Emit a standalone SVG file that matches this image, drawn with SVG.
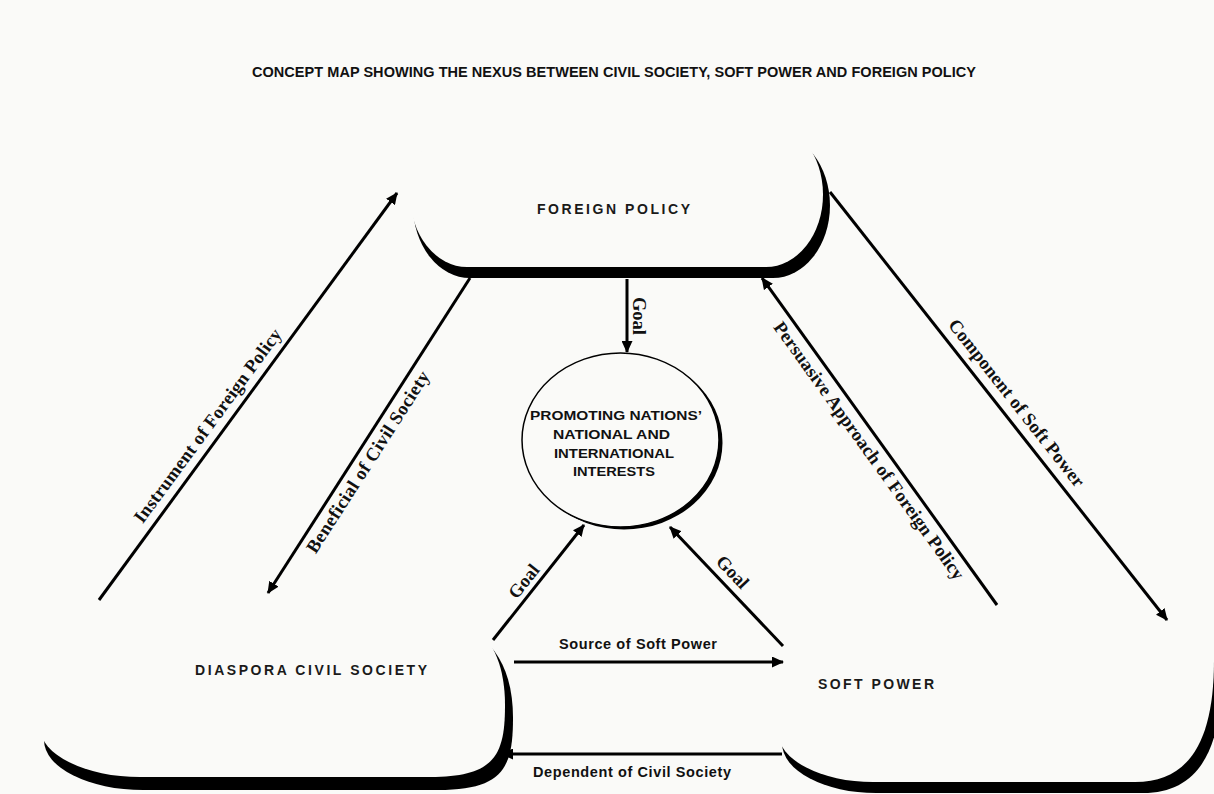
<svg xmlns="http://www.w3.org/2000/svg" width="1214" height="794" viewBox="0 0 1214 794">
<defs>
<style>
.bg{fill:#fafaf8}
.shape{fill:#fafaf8}
.shadow{fill:#000}
.title{font-family:"Liberation Sans",Arial,sans-serif;font-weight:bold;font-size:14.5px;fill:#111}
.node{font-family:"Liberation Sans",Arial,sans-serif;font-weight:bold;font-size:14px;fill:#1a1a1a}
.inner{font-family:"Liberation Sans",Arial,sans-serif;font-weight:bold;font-size:13px;fill:#111;text-anchor:middle}
.lbl{font-family:"Liberation Serif","Times New Roman",serif;font-weight:bold;font-size:18.5px;fill:#111;text-anchor:middle}
.hlbl{font-family:"Liberation Sans",Arial,sans-serif;font-weight:bold;font-size:14.5px;fill:#111;text-anchor:middle}
.edge{stroke:#000;stroke-width:3;fill:none;marker-end:url(#ah)}
</style>
<marker id="ah" viewBox="0 0 12 11" refX="11" refY="5.5" markerWidth="12" markerHeight="11" markerUnits="userSpaceOnUse" orient="auto">
<path d="M0,0 L12,5.5 L0,11 z" fill="#000"/>
</marker>
</defs>
<rect class="bg" x="0" y="0" width="1214" height="794"/>
<text class="title" x="252" y="77" textLength="724">CONCEPT MAP SHOWING THE NEXUS BETWEEN CIVIL SOCIETY, SOFT POWER AND FOREIGN POLICY</text>

<g id="foreign-policy">
<path class="shadow" d="M470 133 H773 A57 72.5 0 0 1 773 278 H470 A57 72.5 0 0 1 470 133 Z"/>
<path class="shape" d="M467 122 H766 A57 72.5 0 0 1 766 267 H467 A57 72.5 0 0 1 467 122 Z"/>
<text class="node" x="537" y="214" textLength="153">FOREIGN POLICY</text>
</g>

<g id="diaspora-civil-society">
<path class="shadow" d="M44 635 H478 C503 653, 513 683, 513 718 C513 768, 503 790, 438 790 H143 A99 50 0 0 1 44 740 Z"/>
<path class="shape" d="M40 622 H470 C495 640, 505 670, 505 705 C505 755, 495 777, 430 777 H140 A100 50 0 0 1 40 727 Z"/>
<text class="node" x="195" y="675" textLength="232">DIASPORA CIVIL SOCIETY</text>
</g>

<g id="soft-power">
<path class="shadow" d="M782 641 H1222 V671 C1222 751, 1198 793, 1143 793 H876 A94 50 0 0 1 782 743 Z"/>
<path class="shape" d="M778 630 H1214 V660 C1214 740, 1190 782, 1135 782 H873 A95 50 0 0 1 778 732 Z"/>
<text class="node" x="818" y="689" textLength="116">SOFT POWER</text>
</g>

<g id="national-interests">
<ellipse cx="624" cy="442.5" rx="98.5" ry="87" fill="#000"/>
<ellipse cx="620.5" cy="440" rx="98.5" ry="87" fill="#fafaf8" stroke="#000" stroke-width="1.5"/>
<text class="inner" x="616" y="420" textLength="172" lengthAdjust="spacingAndGlyphs">PROMOTING NATIONS’</text>
<text class="inner" x="611.5" y="438.5" textLength="117" lengthAdjust="spacingAndGlyphs">NATIONAL AND</text>
<text class="inner" x="614" y="457.5" textLength="120" lengthAdjust="spacingAndGlyphs">INTERNATIONAL</text>
<text class="inner" x="614" y="475.5" textLength="82" lengthAdjust="spacingAndGlyphs">INTERESTS</text>
</g>

<g id="connectors">
<line class="edge" x1="99" y1="600" x2="397" y2="193"/>
<text class="lbl" transform="translate(219.8,434.6) rotate(-53.7)" x="0" y="-9" textLength="236">Instrument of Foreign Policy</text>

<line class="edge" x1="470" y1="278" x2="268" y2="593"/>
<text class="lbl" transform="translate(357,455) rotate(-57.3)" x="0" y="19" textLength="212">Beneficial of Civil Society</text>

<line class="edge" x1="627" y1="279" x2="627" y2="352"/>
<text class="lbl" transform="translate(627,316) rotate(90)" x="0" y="-6">Goal</text>

<line class="edge" x1="997" y1="605" x2="762" y2="278"/>
<text class="lbl" transform="translate(880.4,442.6) rotate(54.3)" x="0" y="20" textLength="313">Persuasive Approach of Foreign Policy</text>

<line class="edge" x1="830" y1="192" x2="1167" y2="620"/>
<text class="lbl" transform="translate(1003.9,412.9) rotate(51.8)" x="0" y="-10" textLength="208">Component of Soft Power</text>

<line class="edge" x1="493" y1="640" x2="584" y2="525"/>
<text class="lbl" transform="translate(533.3,588.9) rotate(-51.5)" x="0" y="-6">Goal</text>

<line class="edge" x1="783" y1="646" x2="670" y2="527"/>
<text class="lbl" transform="translate(722.4,581.8) rotate(46.5)" x="0" y="-8">Goal</text>

<line class="edge" x1="514" y1="662" x2="783" y2="662"/>
<text class="hlbl" x="638" y="649" textLength="158">Source of Soft Power</text>

<line class="edge" x1="782" y1="754" x2="502" y2="754"/>
<text class="hlbl" x="632" y="777" textLength="198">Dependent of Civil Society</text>
</g>
</svg>
